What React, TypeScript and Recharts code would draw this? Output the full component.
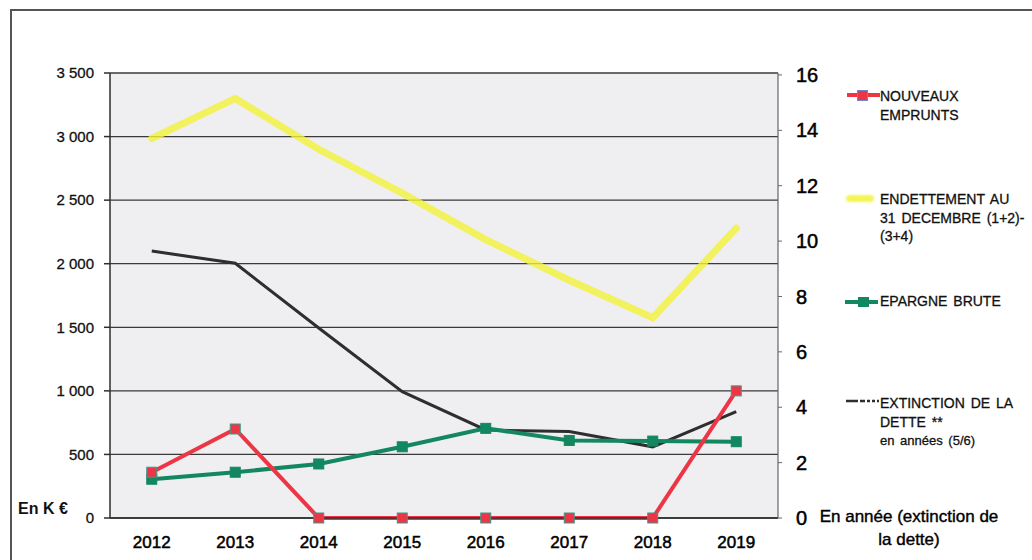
import React from 'react';
import { LineChart, Line, XAxis, YAxis, CartesianGrid } from 'recharts';

const years = ['2012', '2013', '2014', '2015', '2016', '2017', '2018', '2019'];
const nouveauxEmprunts = [360, 700, 0, 0, 0, 0, 0, 1000];
const endettement = [2985, 3300, 2900, 2555, 2190, 1870, 1575, 2280];
const epargneBrute = [305, 360, 425, 560, 705, 610, 605, 600];
const extinction = [9.64, 9.2, 6.86, 4.56, 3.18, 3.12, 2.57, 3.84];

const leftTicks = [0, 500, 1000, 1500, 2000, 2500, 3000, 3500];
const rightTicks = [0, 2, 4, 6, 8, 10, 12, 14, 16];
const boundaryTicks = [0, 1, 2, 3, 4, 5, 6, 7, 8];

const data = years.map((y, i) => ({
  year: y,
  emprunts: nouveauxEmprunts[i],
  endettement: endettement[i],
  epargne: epargneBrute[i],
  extinction: extinction[i],
}));

const fmtK = (v: number) =>
  v >= 1000 ? `${Math.floor(v / 1000)} ${String(v % 1000).padStart(3, '0')}` : String(v);

const RED = '#ee3545';
const GREEN = '#13875f';
const YELLOW = '#f3f33a';
const DARK = '#2e2e2e';

const redDot = (p: any) => (
  <rect key={`r${p.index}`} x={p.cx - 5} y={p.cy - 5} width={10} height={10} fill={RED} stroke="#3a9a8a" strokeWidth={1} />
);
const greenDot = (p: any) => (
  <rect key={`g${p.index}`} x={p.cx - 5} y={p.cy - 5} width={10} height={10} fill={GREEN} stroke={GREEN} strokeWidth={1} />
);

const font = '"Liberation Sans", Arial, sans-serif';

const legendText: React.CSSProperties = {
  position: 'absolute',
  left: 880,
  fontFamily: font,
  fontSize: 14,
  lineHeight: '18.5px',
  color: '#111',
  wordSpacing: 2,
  whiteSpace: 'nowrap',
  WebkitTextStroke: '0.3px #111',
};

export default function App() {
  return (
    <div style={{ position: 'absolute', left: 0, top: 0, width: 1032, height: 560, background: '#fff', overflow: 'hidden', fontFamily: font }}>
      <div style={{ position: 'absolute', left: 10, top: 9, width: 1040, height: 600, borderTop: '2px solid #555', borderLeft: '2px solid #555' }} />
      <div style={{ position: 'absolute', left: 0, top: 0 }}>
        <LineChart width={1032} height={560} data={data} margin={{ top: 73, right: 194, bottom: 12, left: 50 }}>
          <CartesianGrid yAxisId="left" xAxisId="cat" vertical={false} stroke="#3a3a3a" strokeWidth={1.3} fill="#efeef1" />
          <XAxis
            xAxisId="cat"
            dataKey="year"
            scale="band"
            height={30}
            tickLine={false}
            tickSize={0}
            tickMargin={18}
            axisLine={{ stroke: DARK, strokeWidth: 1.5 }}
            tick={{ fontSize: 17, fill: '#000', fontFamily: font, stroke: '#000', strokeWidth: 0.5 }}
            interval={0}
          />
          <XAxis
            xAxisId="bnd"
            type="number"
            domain={[0, 8]}
            ticks={boundaryTicks}
            height={0}
            tick={false}
            axisLine={false}
            tickLine={{ stroke: DARK, strokeWidth: 1.5 }}
            tickSize={6}
          />
          <YAxis
            yAxisId="left"
            width={60}
            domain={[0, 3500]}
            ticks={leftTicks}
            tickFormatter={fmtK}
            tickSize={6}
            tickMargin={10}
            axisLine={{ stroke: DARK, strokeWidth: 1.5 }}
            tickLine={{ stroke: DARK, strokeWidth: 1.5 }}
            tick={{ fontSize: 15, fill: '#111', fontFamily: font, stroke: '#111', strokeWidth: 0.3 }}
            interval={0}
          />
          <YAxis
            yAxisId="right"
            orientation="right"
            width={60}
            domain={[0, 16.07]}
            ticks={rightTicks}
            tickSize={4}
            tickMargin={14}
            axisLine={{ stroke: '#666', strokeWidth: 1.2 }}
            tickLine={{ stroke: '#666', strokeWidth: 1 }}
            tick={{ fontSize: 20, fill: '#000', fontFamily: font, stroke: '#000', strokeWidth: 0.5 }}
            interval={0}
          />
          <Line xAxisId="cat" yAxisId="left" dataKey="endettement" stroke={YELLOW} strokeOpacity={0.8} strokeWidth={7} strokeLinecap="round" dot={false} isAnimationActive={false} />
          <Line xAxisId="cat" yAxisId="right" dataKey="extinction" stroke={DARK} strokeWidth={3} dot={false} isAnimationActive={false} />
          <Line xAxisId="cat" yAxisId="left" dataKey="epargne" stroke={GREEN} strokeWidth={4} dot={greenDot} isAnimationActive={false} />
          <Line xAxisId="cat" yAxisId="left" dataKey="emprunts" stroke={RED} strokeWidth={4} dot={redDot} isAnimationActive={false} />
        </LineChart>
      </div>

      {/* Legend */}
      <div style={{ position: 'absolute', left: 847, top: 93, width: 33, height: 4, background: RED }} />
      <div style={{ position: 'absolute', left: 857, top: 90, width: 9, height: 9, background: RED, border: '1px solid #6a8ad0' }} />
      <div style={{ ...legendText, top: 87 }}>NOUVEAUX<br />EMPRUNTS</div>

      <div style={{ position: 'absolute', left: 846, top: 195, width: 28, height: 7, background: YELLOW, opacity: 0.85, borderRadius: 4, filter: 'blur(1px)' }} />
      <div style={{ ...legendText, top: 190 }}>ENDETTEMENT AU<br />31 DECEMBRE (1+2)-<br />(3+4)</div>

      <div style={{ position: 'absolute', left: 845, top: 300, width: 33, height: 4, background: GREEN }} />
      <div style={{ position: 'absolute', left: 858, top: 297, width: 11, height: 10, background: GREEN }} />
      <div style={{ ...legendText, top: 292 }}>EPARGNE BRUTE</div>

      <svg style={{ position: 'absolute', left: 845, top: 398 }} width={36} height={8}>
        <line x1={1} y1={3} x2={34} y2={3} stroke={DARK} strokeWidth={2.5} strokeDasharray="12 2 5 2 3 2 3 2" />
      </svg>
      <div style={{ ...legendText, top: 394 }}>EXTINCTION DE LA<br />DETTE **<br /><span style={{ fontSize: 13 }}>en années (5/6)</span></div>

      {/* Axis captions */}
      <div style={{ position: 'absolute', left: 18, top: 500, fontSize: 16, fontWeight: 'bold', lineHeight: '18px', color: '#111', whiteSpace: 'nowrap' }}>En K €</div>
      <div style={{ position: 'absolute', left: 789, top: 505, width: 240, textAlign: 'center', fontSize: 17, lineHeight: '23px', color: '#000', WebkitTextStroke: '0.4px #000' }}>
        En année (extinction de<br />la dette)
      </div>
    </div>
  );
}
